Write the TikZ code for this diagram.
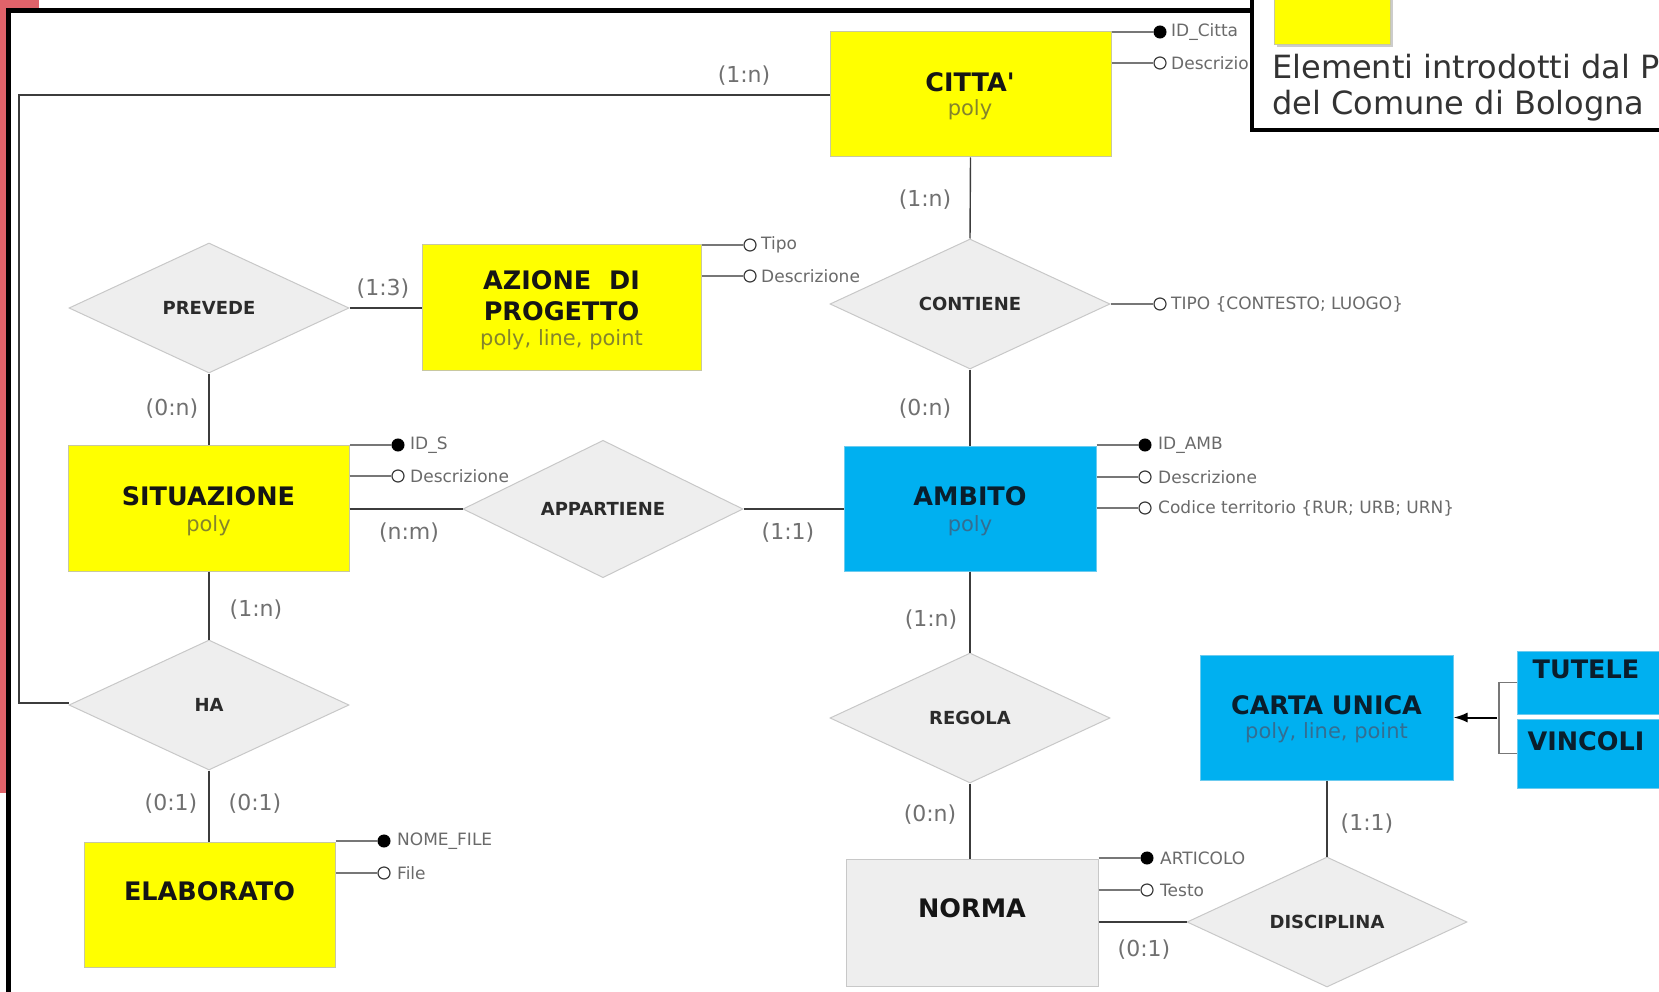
\documentclass[tikz,border=0pt]{standalone}
\usepackage{fontspec}
\setmainfont{DejaVu Sans}
\usetikzlibrary{shapes.geometric,arrows.meta}
\definecolor{yelF}{HTML}{FFFF00}
\definecolor{yelB}{HTML}{C8C8A0}
\definecolor{bluF}{HTML}{00B0F0}
\definecolor{bluB}{HTML}{6CCBEF}
\definecolor{relF}{HTML}{EEEEEE}
\definecolor{relB}{HTML}{C8C8C8}
\definecolor{relT}{HTML}{2B2B2B}
\definecolor{nameY}{HTML}{151515}
\definecolor{subY}{HTML}{84842C}
\definecolor{nameB}{HTML}{0A1E2C}
\definecolor{subB}{HTML}{336E92}
\definecolor{cardT}{HTML}{707070}
\definecolor{attT}{HTML}{6A6A6A}
\definecolor{lnC}{HTML}{3C3C3C}
\definecolor{attL}{HTML}{777777}
\definecolor{redbar}{HTML}{E0636A}
\definecolor{legT}{HTML}{333333}
\tikzset{
  entY/.style={rectangle, draw=yelB, fill=yelF, line width=1pt, inner sep=0pt},
  entB/.style={rectangle, draw=bluB, fill=bluF, line width=1pt, inner sep=0pt},
  entG/.style={rectangle, draw=relB, fill=relF, line width=1pt, inner sep=0pt},
  rel/.style={diamond, draw=relB, fill=relF, line width=1pt, inner sep=0pt,
    minimum width=280pt, minimum height=130pt,
    font=\fontsize{18}{20}\selectfont\bfseries, text=relT},
  nameY/.style={inner sep=0pt, font=\fontsize{25.5}{29}\selectfont\bfseries, text=nameY},
  nameB/.style={inner sep=0pt, font=\fontsize{25.5}{29}\selectfont\bfseries, text=nameB},
  subY/.style={inner sep=0pt, font=\fontsize{21}{25}\selectfont, text=subY},
  subB/.style={inner sep=0pt, font=\fontsize{21}{25}\selectfont, text=subB},
  card/.style={inner sep=0pt, font=\fontsize{22}{25}\selectfont, text=cardT},
  conn/.style={draw=lnC, line width=1.4pt},
  attline/.style={draw=attL, line width=1.3pt},
  keyatt/.style={circle, fill=black, draw=black, line width=1pt, minimum size=12pt, inner sep=0pt},
  optatt/.style={circle, fill=white, draw=lnC, line width=1.2pt, minimum size=12pt, inner sep=0pt},
  atttext/.style={anchor=west, inner sep=0pt, font=\fontsize{17}{20}\selectfont, text=attT}
}
\begin{document}
\begin{tikzpicture}[x=1pt,y=-1pt]
\useasboundingbox (0,0) rectangle (1659,992);
\fill[white] (0,0) rectangle (1659,992);
% frame
\fill[redbar] (0,0) rectangle (6,793);
\fill[redbar] (0,0) rectangle (39,8);
\fill[black] (6,8) rectangle (11,992);
\fill[black] (6,8) rectangle (1252,13);

% entities
\node[entY, minimum width=281pt, minimum height=125pt] (citta) at (970.5,94.5) {};
\node[nameY] (cittan) at (970,82) {CITTA\textquotesingle};
\node[subY] (cittas) at (970,110) {poly};

\node[entY, minimum width=279pt, minimum height=125pt] (azione) at (561.5,307.5) {};
\node[nameY] (azionen1) at (561.5,280) {AZIONE\ \ DI};
\node[nameY] (azionen2) at (561.5,311) {PROGETTO};
\node[subY] (aziones) at (561.5,340) {poly, line, point};

\node[entY, minimum width=281pt, minimum height=126pt] (situaz) at (208.5,508) {};
\node[nameY] (situazn) at (208.5,496) {SITUAZIONE};
\node[subY] (situazs) at (208.5,526) {poly};

\node[entB, minimum width=252pt, minimum height=125pt] (ambito) at (970,508.5) {};
\node[nameB] (ambiton) at (970,496) {AMBITO};
\node[subB] (ambitos) at (970,526) {poly};

\node[entY, minimum width=251pt, minimum height=125pt] (elab) at (209.5,904.5) {};
\node[nameY] (elabn) at (209.5,891) {ELABORATO};

\node[entG, minimum width=252pt, minimum height=127pt] (norma) at (972,922.5) {};
\node[nameY] (norman) at (972,908) {NORMA};

\node[entB, minimum width=253pt, minimum height=125pt] (carta) at (1326.5,717.5) {};
\node[nameB] (cartan) at (1326.5,705) {CARTA UNICA};
\node[subB] (cartas) at (1326.5,733) {poly, line, point};

\node[entB, minimum width=163pt, minimum height=63pt] (tutele) at (1598.5,682.5) {};
\node[nameB] (tutelen) at (1586,669) {TUTELE};
\node[entB, minimum width=163pt, minimum height=69pt] (vincoli) at (1598.5,753.5) {};
\node[nameB] (vincolin) at (1586,741) {VINCOLI};

% relationships
\node[rel] (contiene) at (970,304) {CONTIENE};
\node[rel] (prevede) at (209,308) {PREVEDE};
\node[rel] (appart) at (603,509) {APPARTIENE};
\node[rel] (ha) at (209,705) {HA};
\node[rel] (regola) at (970,718) {REGOLA};
\node[rel] (discip) at (1327,922) {DISCIPLINA};

% connectors
\coordinate (k1) at (19,95);
\coordinate (k2) at (19,703);
\draw[conn] (citta.west |- k1) -- (k1) -- (k2) -- (ha.west |- k2);
\draw[conn] (citta.south) -- (contiene.north);
\draw[conn] (contiene.south) -- (ambito.north);
\draw[conn] (prevede.east) -- (azione.west |- prevede.east);
\draw[conn] (prevede.south) -- (situaz.north -| prevede.south);
\draw[conn] (situaz.east |- appart.west) -- (appart.west);
\draw[conn] (appart.east) -- (ambito.west |- appart.east);
\draw[conn] (situaz.south -| ha.north) -- (ha.north);
\draw[conn] (ha.south) -- (elab.north -| ha.south);
\draw[conn] (ambito.south) -- (regola.north);
\draw[conn] (regola.south) -- (norma.north -| regola.south);
\draw[conn] (norma.east |- discip.west) -- (discip.west);
\draw[conn] (carta.south -| discip.north) -- (discip.north);
% generalization
\coordinate (br1) at (1499,682.5);
\coordinate (br2) at (1499,753.5);
\coordinate (brm) at (1497,717.5);
\draw[attline] (tutele.west) -- (br1) -- (br2) -- (vincoli.west);
\draw[draw=black, line width=2pt, -{Latex[length=14pt,width=10pt]}] (brm) -- (carta.east);

% cardinalities
\node[card] (c1) at (744,76) {(1:n)};
\node[card] (c2) at (925,200) {(1:n)};
\node[card] (c3) at (925,409) {(0:n)};
\node[card] (c4) at (383,289) {(1:3)};
\node[card] (c5) at (172,409) {(0:n)};
\node[card] (c6) at (409,533) {(n:m)};
\node[card] (c7) at (788,533) {(1:1)};
\node[card] (c8) at (256,610) {(1:n)};
\node[card] (c9) at (171,804) {(0:1)};
\node[card] (c10) at (255,804) {(0:1)};
\node[card] (c11) at (931,620) {(1:n)};
\node[card] (c12) at (930,815) {(0:n)};
\node[card] (c13) at (1144,950) {(0:1)};
\node[card] (c14) at (1367,824) {(1:1)};

% attributes
\node[keyatt] (a1) at (1160,32) {};
\node[optatt] (a2) at (1160,63) {};
\draw[attline] (a1 -| citta.east) -- (a1);
\draw[attline] (a2 -| citta.east) -- (a2);
\node[atttext] (a1t) at (1171,32) {ID\_Citta};
\node[atttext] (a2t) at (1171,63) {Descrizio};

\node[optatt] (a3) at (750,245) {};
\node[optatt] (a4) at (750,276) {};
\draw[attline] (a3 -| azione.east) -- (a3);
\draw[attline] (a4 -| azione.east) -- (a4);
\node[atttext] (a3t) at (761,245) {Tipo};
\node[atttext] (a4t) at (761,276) {Descrizione};

\node[optatt] (a5) at (1160,304) {};
\draw[attline] (contiene.east) -- (a5);
\node[atttext] (a5t) at (1171,304) {TIPO \{CONTESTO; LUOGO\}};

\node[keyatt] (a6) at (398,445) {};
\node[optatt] (a7) at (398,476) {};
\draw[attline] (a6 -| situaz.east) -- (a6);
\draw[attline] (a7 -| situaz.east) -- (a7);
\node[atttext] (a6t) at (410,445) {ID\_S};
\node[atttext] (a7t) at (410,476) {Descrizione};

\node[keyatt] (a8) at (1145,445) {};
\node[optatt] (a9) at (1145,477) {};
\node[optatt] (a10) at (1145,508) {};
\draw[attline] (a8 -| ambito.east) -- (a8);
\draw[attline] (a9 -| ambito.east) -- (a9);
\draw[attline] (a10 -| ambito.east) -- (a10);
\node[atttext] (a8t) at (1158,445) {ID\_AMB};
\node[atttext] (a9t) at (1158,477) {Descrizione};
\node[atttext] (a10t) at (1158,508) {Codice territorio \{RUR; URB; URN\}};

\node[keyatt] (a11) at (384,841) {};
\node[optatt] (a12) at (384,873) {};
\draw[attline] (a11 -| elab.east) -- (a11);
\draw[attline] (a12 -| elab.east) -- (a12);
\node[atttext] (a11t) at (397,841) {NOME\_FILE};
\node[atttext] (a12t) at (397,873) {File};

\node[keyatt] (a13) at (1147,858) {};
\node[optatt] (a14) at (1147,890) {};
\draw[attline] (a13 -| norma.east) -- (a13);
\draw[attline] (a14 -| norma.east) -- (a14);
\node[atttext] (a13t) at (1160,858) {ARTICOLO};
\node[atttext] (a14t) at (1160,890) {Testo};

% legend
\draw[black, line width=4pt, fill=white] (1252,-20) rectangle (1700,130);
\fill[gray!40] (1277,-10) rectangle (1393,47);
\draw[fill=yelF, draw=yelB, line width=0.8pt] (1274,-10) rectangle (1390,44);
\node[inner sep=0pt, anchor=west, font=\fontsize{32}{36}\selectfont, text=legT] (leg1) at (1272,67) {Elementi introdotti dal P};
\node[inner sep=0pt, anchor=west, font=\fontsize{32}{36}\selectfont, text=legT] (leg2) at (1272,106) {del Comune di Bologna};
\end{tikzpicture}
\end{document}
